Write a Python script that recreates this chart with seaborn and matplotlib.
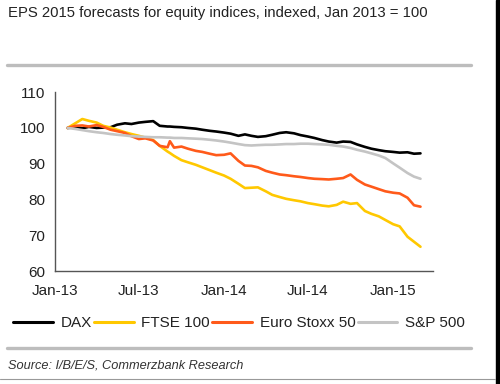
import pandas as pd
import matplotlib
matplotlib.use("Agg")
import matplotlib.pyplot as plt
import matplotlib.dates as mdates
from matplotlib.lines import Line2D
from matplotlib.patches import Rectangle
import seaborn as sns

# Values (indexed, Jan 2013 = 100)
dates = [
    "2013-01-28", "2013-02-15", "2013-03-01", "2013-03-15", "2013-04-01", "2013-04-15",
    "2013-05-01", "2013-05-15", "2013-06-01", "2013-06-15", "2013-07-01", "2013-07-15",
    "2013-08-01", "2013-08-15", "2013-09-01", "2013-09-06", "2013-09-15", "2013-10-01",
    "2013-10-15", "2013-11-01", "2013-11-15", "2013-12-01", "2013-12-15",
    "2014-01-01", "2014-01-15", "2014-02-01", "2014-02-15", "2014-03-01", "2014-03-15",
    "2014-04-01", "2014-04-15", "2014-05-01", "2014-05-15", "2014-06-01", "2014-06-15",
    "2014-07-01", "2014-07-15", "2014-08-01", "2014-08-15", "2014-09-01", "2014-09-15",
    "2014-10-01", "2014-10-15", "2014-11-01", "2014-11-15", "2014-12-01", "2014-12-15",
    "2015-01-01", "2015-01-15", "2015-02-01", "2015-02-15", "2015-03-01",
]

dax = [
    100, 100.2, 99.9, 100.3, 100.0, 100.1, 100.2, 100.9, 101.3, 101.1, 101.5, 101.7,
    101.9, 100.6, 100.4, 100.4, 100.3, 100.2, 100.0, 99.8, 99.5, 99.2, 99.0,
    98.7, 98.4, 97.8, 98.2, 97.8, 97.5, 97.7, 98.1, 98.6, 98.8, 98.5, 98.0,
    97.6, 97.2, 96.6, 96.2, 95.9, 96.2, 96.1, 95.4, 94.7, 94.2, 93.8, 93.5,
    93.3, 93.1, 93.2, 92.8, 92.9,
]
ftse = [
    100, 101.4, 102.5, 102.0, 101.5, 100.6, 100.1, 99.5, 98.8, 98.3, 97.8, 97.3,
    96.6, 95.0, 93.4, 93.0, 92.2, 91.0, 90.4, 89.7, 89.0, 88.2, 87.5,
    86.7, 85.8, 84.4, 83.2, 83.3, 83.4, 82.3, 81.3, 80.7, 80.2, 79.8, 79.5,
    79.0, 78.7, 78.3, 78.1, 78.5, 79.4, 78.8, 79.0, 76.8, 76.0, 75.3, 74.3,
    73.1, 72.5, 69.6, 68.2, 66.8,
]
stoxx = [
    100, 100.6, 100.7, 100.4, 100.8, 100.3, 99.5, 99.1, 98.6, 97.7, 96.9, 97.1,
    96.5, 95.0, 94.6, 96.3, 94.5, 94.8, 94.2, 93.6, 93.3, 92.8, 92.4,
    92.5, 92.9, 90.8, 89.5, 89.4, 89.0, 88.0, 87.5, 87.0, 86.8, 86.5, 86.3,
    86.0, 85.8, 85.7, 85.6, 85.8, 86.0, 87.0, 85.5, 84.2, 83.6, 82.9, 82.3,
    81.9, 81.7, 80.5, 78.4, 78.0,
]
sp500 = [
    100, 99.7, 99.4, 99.1, 98.8, 98.6, 98.3, 98.1, 97.9, 97.7, 97.6, 97.5,
    97.4, 97.4, 97.3, 97.3, 97.2, 97.2, 97.1, 97.0, 96.9, 96.7, 96.5,
    96.2, 95.9, 95.5, 95.2, 95.1, 95.2, 95.3, 95.3, 95.4, 95.5, 95.5, 95.6,
    95.6, 95.5, 95.4, 95.3, 95.0, 94.8, 94.4, 93.9, 93.4, 92.9, 92.3, 91.6,
    90.1, 88.9, 87.4, 86.4, 85.8,
]

series_names = ["DAX", "FTSE 100", "Euro Stoxx 50", "S&P 500"]
colors = {"DAX": "#000000", "FTSE 100": "#FFC800",
          "Euro Stoxx 50": "#FF5A1A", "S&P 500": "#C4C4C4"}

df = pd.DataFrame({"date": pd.to_datetime(dates), "DAX": dax, "FTSE 100": ftse,
                   "Euro Stoxx 50": stoxx, "S&P 500": sp500})
long_df = df.melt(id_vars="date", var_name="index", value_name="value")

sns.set_style("white")
plt.rcParams["font.family"] = ["Liberation Sans", "DejaVu Sans"]

fig = plt.figure(figsize=(5.0, 3.84), dpi=100)
ax = fig.add_axes([0.11, 0.294, 0.756, 0.466])

sns.lineplot(data=long_df, x="date", y="value", hue="index", hue_order=series_names,
             palette=colors, linewidth=1.9, ax=ax, legend=False)

ax.set_ylim(60, 110)
ax.set_yticks([60, 70, 80, 90, 100, 110])
ax.set_xlim(pd.Timestamp("2013-01-01"), pd.Timestamp("2015-03-28"))
ax.xaxis.set_major_locator(mdates.MonthLocator(bymonth=[1, 7]))
ax.xaxis.set_major_formatter(mdates.DateFormatter("%b-%y"))
ax.set_xlabel("")
ax.set_ylabel("")

for side in ["top", "right"]:
    ax.spines[side].set_visible(False)
for side in ["left", "bottom"]:
    ax.spines[side].set_color("#555555")
    ax.spines[side].set_linewidth(1.0)
ax.tick_params(axis="both", direction="out", length=4, width=1.0, color="#555555",
               labelsize=11, labelcolor="#222222", pad=3)
ax.tick_params(axis="x", pad=5)

# Legend below the plot
handles = [Line2D([0], [0], color=colors[n], lw=2.2) for n in series_names]
fig.legend(handles, series_names, loc="center", bbox_to_anchor=(0.478, 0.159), ncol=4,
           frameon=False, fontsize=11, handlelength=2.6, handletextpad=0.5,
           columnspacing=0.15, labelcolor="#222222")

# Title, rules and source note
fig.text(0.016, 0.966, "EPS 2015 forecasts for equity indices, indexed, Jan 2013 = 100",
         fontsize=10.7, color="#222222", va="center", ha="left")
fig.add_artist(Line2D([0.014, 0.942], [0.831, 0.831], color="#BDBDBD", lw=2.4))
fig.add_artist(Line2D([0.014, 0.942], [0.094, 0.094], color="#BDBDBD", lw=2.4))
fig.text(0.016, 0.049, "Source: I/B/E/S, Commerzbank Research", fontsize=9.2,
         style="italic", color="#333333", va="center", ha="left")

# Frame edges seen in the screenshot
fig.add_artist(Line2D([0.0, 0.99], [0.013, 0.013], color="#999999", lw=0.8))
fig.add_artist(Rectangle((0.991, 0.0), 0.009, 1.0, transform=fig.transFigure,
                         color="black"))

fig.savefig("out.png", dpi=100)
